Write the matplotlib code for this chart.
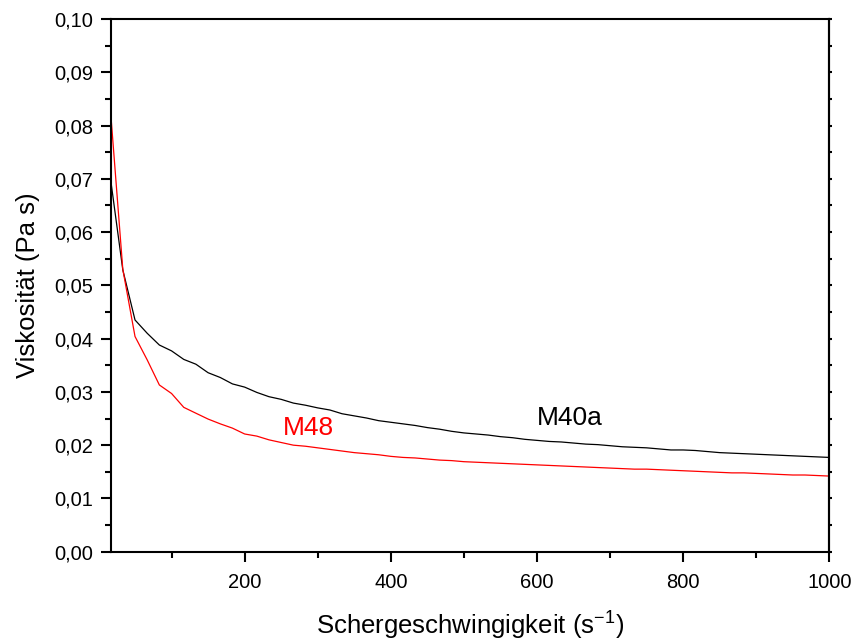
import matplotlib
matplotlib.use("Agg")
import matplotlib.pyplot as plt
from matplotlib.ticker import MultipleLocator, FuncFormatter

plt.rcParams['font.family'] = ['Liberation Sans', 'DejaVu Sans']
plt.rcParams['mathtext.fontset'] = 'custom'
plt.rcParams['mathtext.rm'] = 'Liberation Sans'

# Schergeschwindigkeit (s^-1)
shear = [16.7, 33.3, 50.0, 66.7, 83.3, 100.0, 116.7, 133.3, 150.0, 166.7,
         183.3, 200.0, 216.7, 233.3, 250.0, 266.7, 283.3, 300.0, 316.7, 333.3,
         350.0, 366.7, 383.3, 400.0, 416.7, 433.3, 450.0, 466.7, 483.3, 500.0,
         516.7, 533.3, 550.0, 566.7, 583.3, 600.0, 616.7, 633.3, 650.0, 666.7,
         683.3, 700.0, 716.7, 733.3, 750.0, 766.7, 783.3, 800.0, 816.7, 833.3,
         850.0, 866.7, 883.3, 900.0, 916.7, 933.3, 950.0, 966.7, 983.3, 1000.0]

# Viskositaet (Pa s)
m40a = [0.0698, 0.0529, 0.0435, 0.0410, 0.0388, 0.0377, 0.0361, 0.0352, 0.0336, 0.0327,
        0.0315, 0.0309, 0.0299, 0.0291, 0.0286, 0.0279, 0.0275, 0.0270, 0.0266, 0.0259,
        0.0255, 0.0251, 0.0246, 0.0243, 0.0240, 0.0237, 0.0233, 0.0230, 0.0226, 0.0223,
        0.0221, 0.0219, 0.0216, 0.0214, 0.0211, 0.0209, 0.0207, 0.0206, 0.0204, 0.0202,
        0.0201, 0.0199, 0.0197, 0.0196, 0.0195, 0.0193, 0.0191, 0.0191, 0.0190, 0.0188,
        0.0186, 0.0185, 0.0184, 0.0183, 0.0182, 0.0181, 0.0180, 0.0179, 0.0178, 0.0177]

m48 = [0.0824, 0.0530, 0.0404, 0.0360, 0.0313, 0.0297, 0.0271, 0.0260, 0.0249, 0.0240,
       0.0232, 0.0221, 0.0217, 0.0210, 0.0205, 0.0200, 0.0198, 0.0195, 0.0192, 0.0189,
       0.0186, 0.0184, 0.0182, 0.0179, 0.0177, 0.0176, 0.0174, 0.0172, 0.0171, 0.0169,
       0.0168, 0.0167, 0.0166, 0.0165, 0.0164, 0.0163, 0.0162, 0.0161, 0.0160, 0.0159,
       0.0158, 0.0157, 0.0156, 0.0155, 0.0155, 0.0154, 0.0153, 0.0152, 0.0151, 0.0150,
       0.0149, 0.0148, 0.0148, 0.0147, 0.0146, 0.0145, 0.0144, 0.0144, 0.0143, 0.0142]

fig = plt.figure(figsize=(8.56, 6.44), dpi=100)
ax = fig.add_axes([0.1293, 0.1433, 0.8395, 0.8272])

ax.plot(shear, m40a, color='black', lw=0.9)
ax.plot(shear, m48, color='#ff0000', lw=0.9)

ax.set_xlim(16.7, 1000)
ax.set_ylim(0, 0.10)

ax.xaxis.set_major_locator(MultipleLocator(200))
ax.xaxis.set_minor_locator(MultipleLocator(100))
ax.yaxis.set_major_locator(MultipleLocator(0.01))
ax.yaxis.set_minor_locator(MultipleLocator(0.005))
ax.yaxis.set_major_formatter(FuncFormatter(lambda v, p: f"{v:.2f}".replace('.', ',')))
ax.xaxis.set_major_formatter(FuncFormatter(lambda v, p: f"{v:.0f}"))

for s in ax.spines.values():
    s.set_linewidth(1.5)

ax.tick_params(axis='both', which='both', direction='out', width=1.5, labelsize=14.5)
ax.tick_params(axis='y', which='major', length=7.5, pad=5)
ax.tick_params(axis='y', which='minor', length=4)
ax.tick_params(axis='x', which='major', length=7, pad=8)
ax.tick_params(axis='x', which='minor', length=4)

# tiny marks on the right spine, as in the original
sec = ax.secondary_yaxis('right')
sec.yaxis.set_major_locator(MultipleLocator(0.01))
sec.yaxis.set_minor_locator(MultipleLocator(0.005))
sec.tick_params(which='both', length=2, width=1.5, labelright=False)
sec.spines['right'].set_linewidth(1.5)

ax.set_xlabel('Schergeschwingigkeit (s$^{\\mathregular{-1}}$)', fontsize=18.5, labelpad=12)
ax.set_ylabel('Viskosität (Pa s)', fontsize=18.5, labelpad=10)

ax.text(253, 0.0219, 'M48', color='#ff0000', fontsize=19)
ax.text(600, 0.0238, 'M40a', color='black', fontsize=19)

fig.savefig('out.png', dpi=100)
